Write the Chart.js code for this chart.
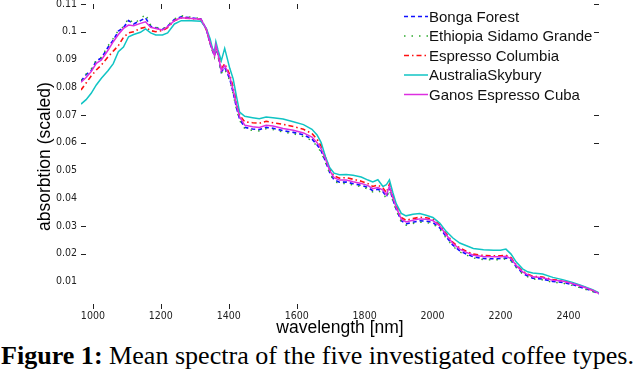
<!DOCTYPE html>
<html>
<head>
<meta charset="utf-8">
<script src="https://cdn.jsdelivr.net/npm/chart.js@4.4.0/dist/chart.umd.min.js"></script>
<style>
  html, body { margin: 0; padding: 0; background: #fff; }
  #wrap { position: relative; width: 640px; height: 376px; overflow: hidden; }
  #spectraChart { position: absolute; left: 0; top: 0; }
  #caption {
    position: absolute; left: 1px; top: 343px; white-space: nowrap;
    font-family: 'Liberation Serif', 'DejaVu Serif', serif; font-size: 25px; line-height: 25px;
    color: #000; transform-origin: 0 0;
  }
</style>
</head>
<body>
<div id="wrap">
  <canvas id="spectraChart" width="640" height="340"></canvas>
  <div id="caption"><b>Figure 1:</b> Mean spectra of the five investigated coffee types.</div>
</div>
<script>
// wavelengths [nm]
const wavelengths = [965, 980, 995, 1010, 1025, 1045, 1060, 1075, 1090, 1105, 1120, 1140, 1155, 1170, 1185, 1205, 1220, 1240, 1260, 1290, 1318, 1334, 1345, 1352, 1358, 1362, 1368, 1378, 1388, 1403, 1413, 1423, 1432, 1447, 1470, 1490, 1510, 1530, 1560, 1590, 1620, 1645, 1660, 1672, 1685, 1697, 1710, 1726, 1746, 1766, 1790, 1810, 1824, 1839, 1854, 1864, 1873, 1883, 1893, 1908, 1922, 1942, 1962, 1981, 2001, 2021, 2040, 2060, 2080, 2100, 2120, 2150, 2180, 2200, 2216, 2231, 2246, 2265, 2280, 2295, 2324, 2354, 2383, 2412, 2442, 2471, 2490];

const bongaForest = [0.0822, 0.0845, 0.0860, 0.0895, 0.0905, 0.0945, 0.0970, 0.1002, 0.1015, 0.1040, 0.1028, 0.1040, 0.1050, 0.1020, 0.1014, 0.1008, 0.1020, 0.1044, 0.1054, 0.1050, 0.1046, 0.1008, 0.0958, 0.0932, 0.0912, 0.0948, 0.0918, 0.0855, 0.0872, 0.0830, 0.0780, 0.0725, 0.0685, 0.0655, 0.0649, 0.0647, 0.0655, 0.0652, 0.0643, 0.0637, 0.0628, 0.0613, 0.0592, 0.0570, 0.0532, 0.0493, 0.0466, 0.0457, 0.0458, 0.0452, 0.0446, 0.0438, 0.0427, 0.0432, 0.0423, 0.0405, 0.0436, 0.0395, 0.0360, 0.0318, 0.0307, 0.0313, 0.0318, 0.0317, 0.0312, 0.0293, 0.0261, 0.0230, 0.0210, 0.0198, 0.0188, 0.0182, 0.0181, 0.0182, 0.0184, 0.0176, 0.0153, 0.0129, 0.0119, 0.0111, 0.0108, 0.0099, 0.0096, 0.0088, 0.0076, 0.0065, 0.0054];

const ethiopiaSidamo = [0.0825, 0.0848, 0.0865, 0.0898, 0.0908, 0.0950, 0.0976, 0.1005, 0.1018, 0.1048, 0.1030, 0.1045, 0.1064, 0.1024, 0.1016, 0.1010, 0.1022, 0.1046, 0.1058, 0.1052, 0.1048, 0.1006, 0.0955, 0.0930, 0.0908, 0.0944, 0.0914, 0.0850, 0.0866, 0.0824, 0.0775, 0.0718, 0.0680, 0.0650, 0.0644, 0.0642, 0.0650, 0.0647, 0.0638, 0.0632, 0.0622, 0.0607, 0.0587, 0.0565, 0.0527, 0.0488, 0.0461, 0.0452, 0.0453, 0.0447, 0.0441, 0.0433, 0.0422, 0.0426, 0.0418, 0.0398, 0.0430, 0.0390, 0.0355, 0.0313, 0.0302, 0.0308, 0.0313, 0.0312, 0.0307, 0.0288, 0.0256, 0.0226, 0.0206, 0.0194, 0.0184, 0.0178, 0.0177, 0.0178, 0.0180, 0.0172, 0.0150, 0.0126, 0.0116, 0.0108, 0.0105, 0.0096, 0.0093, 0.0085, 0.0074, 0.0063, 0.0052];

const espressoColumbia = [0.0790, 0.0815, 0.0840, 0.0862, 0.0880, 0.0910, 0.0930, 0.0950, 0.0980, 0.0996, 0.1000, 0.1012, 0.1016, 0.1004, 0.1000, 0.1004, 0.1015, 0.1040, 0.1050, 0.1047, 0.1044, 0.1008, 0.0962, 0.0936, 0.0918, 0.0950, 0.0925, 0.0865, 0.0885, 0.0845, 0.0800, 0.0745, 0.0700, 0.0675, 0.0672, 0.0670, 0.0677, 0.0672, 0.0666, 0.0658, 0.0648, 0.0633, 0.0612, 0.0588, 0.0545, 0.0505, 0.0480, 0.0472, 0.0474, 0.0468, 0.0461, 0.0452, 0.0442, 0.0447, 0.0436, 0.0420, 0.0450, 0.0408, 0.0372, 0.0330, 0.0320, 0.0326, 0.0331, 0.0329, 0.0324, 0.0304, 0.0272, 0.0240, 0.0220, 0.0208, 0.0198, 0.0193, 0.0192, 0.0192, 0.0194, 0.0185, 0.0160, 0.0136, 0.0126, 0.0118, 0.0115, 0.0106, 0.0102, 0.0093, 0.0081, 0.0068, 0.0056];

const australiaSkybury = [0.0739, 0.0755, 0.0778, 0.0808, 0.0832, 0.0860, 0.0885, 0.0928, 0.0945, 0.0982, 0.0990, 0.0998, 0.1010, 0.0996, 0.0988, 0.0988, 0.0996, 0.1028, 0.1040, 0.1040, 0.1038, 0.1012, 0.0975, 0.0940, 0.0930, 0.0964, 0.0935, 0.0895, 0.0940, 0.0868, 0.0830, 0.0765, 0.0710, 0.0695, 0.0690, 0.0686, 0.0692, 0.0690, 0.0685, 0.0675, 0.0665, 0.0648, 0.0628, 0.0600, 0.0548, 0.0510, 0.0490, 0.0484, 0.0485, 0.0482, 0.0476, 0.0465, 0.0458, 0.0466, 0.0442, 0.0448, 0.0466, 0.0420, 0.0380, 0.0345, 0.0336, 0.0342, 0.0344, 0.0338, 0.0330, 0.0310, 0.0280, 0.0256, 0.0238, 0.0228, 0.0218, 0.0214, 0.0212, 0.0212, 0.0216, 0.0198, 0.0170, 0.0145, 0.0134, 0.0130, 0.0126, 0.0114, 0.0106, 0.0096, 0.0083, 0.0070, 0.0058];

const ganosCuba = [0.0818, 0.0835, 0.0856, 0.0886, 0.0898, 0.0934, 0.0964, 0.0990, 0.1012, 0.1024, 0.1022, 0.1030, 0.1036, 0.1016, 0.1012, 0.1006, 0.1018, 0.1040, 0.1050, 0.1048, 0.1045, 0.1010, 0.0960, 0.0935, 0.0915, 0.0952, 0.0922, 0.0860, 0.0878, 0.0838, 0.0790, 0.0735, 0.0693, 0.0663, 0.0657, 0.0655, 0.0663, 0.0660, 0.0651, 0.0645, 0.0635, 0.0620, 0.0600, 0.0578, 0.0540, 0.0500, 0.0474, 0.0465, 0.0465, 0.0459, 0.0453, 0.0445, 0.0434, 0.0438, 0.0429, 0.0412, 0.0442, 0.0402, 0.0366, 0.0324, 0.0314, 0.0320, 0.0325, 0.0324, 0.0319, 0.0300, 0.0268, 0.0236, 0.0216, 0.0204, 0.0194, 0.0189, 0.0188, 0.0188, 0.0190, 0.0182, 0.0158, 0.0134, 0.0124, 0.0116, 0.0113, 0.0104, 0.0101, 0.0092, 0.0080, 0.0068, 0.0056];

// axis ticks
const xTicks = [1000, 1200, 1400, 1600, 1800, 2000, 2200, 2400];
const yTicks = [0.01, 0.02, 0.03, 0.04, 0.05, 0.06, 0.07, 0.08, 0.09, 0.1, 0.11];
// only these tick marks survived in the figure
const xMarkedTicks = [1000, 1200, 1400, 1600];
const yMarkedTicks = [0.02, 0.03, 0.06, 0.07, 0.1, 0.11];

const sansFont = "'Liberation Sans', Arial, sans-serif";
const tickFont = "'Liberation Sans Narrow', 'DejaVu Sans Condensed', 'Liberation Sans', sans-serif";

const toPoints = vals => wavelengths.map((w, i) => ({ x: w, y: vals[i] }));

// Inward tick marks on all four sides
const tickMarks = {
    id: 'tickMarks',
    afterDatasetsDraw(chart) {
        const { ctx, chartArea: a, scales: { x, y } } = chart;
        ctx.save();
        ctx.strokeStyle = '#222';
        ctx.lineWidth = 1;
        ctx.beginPath();
        xMarkedTicks.forEach(v => {
            const px = Math.round(x.getPixelForValue(v)) + 0.5;
            ctx.moveTo(px, a.top); ctx.lineTo(px, a.top + 5);
            ctx.moveTo(px, a.bottom); ctx.lineTo(px, a.bottom - 5);
        });
        yMarkedTicks.forEach(v => {
            const py = Math.round(y.getPixelForValue(v)) + 0.5;
            ctx.moveTo(a.left, py); ctx.lineTo(a.left + 5, py);
            ctx.moveTo(a.right, py); ctx.lineTo(a.right - 5, py);
        });
        ctx.stroke();
        ctx.restore();
    }
};

// Legend with line samples, top right inside the plot
const lineLegend = {
    id: 'lineLegend',
    afterDraw(chart) {
        const ctx = chart.ctx;
        ctx.save();
        ctx.font = '15px ' + sansFont;
        ctx.textBaseline = 'middle';
        chart.data.datasets.forEach((ds, i) => {
            const yy = 16.5 + i * 19.5;
            ctx.strokeStyle = ds.borderColor;
            ctx.lineWidth = ds.borderWidth;
            ctx.setLineDash(ds.borderDash || []);
            ctx.beginPath();
            ctx.moveTo(404, yy);
            ctx.lineTo(428, yy);
            ctx.stroke();
            ctx.setLineDash([]);
            ctx.fillStyle = '#111';
            ctx.fillText(ds.label, 429, yy + 1);
        });
        ctx.restore();
    }
};

document.addEventListener('DOMContentLoaded', () => {
    const ctx = document.getElementById('spectraChart').getContext('2d');
    new Chart(ctx, {
        type: 'line',
        data: {
            datasets: [
                { label: 'Bonga Forest', data: toPoints(bongaForest), borderColor: '#1010ff', borderWidth: 1.6, borderDash: [4, 3], order: 5 },
                { label: 'Ethiopia Sidamo Grande', data: toPoints(ethiopiaSidamo), borderColor: '#2eaa2e', borderWidth: 1.4, borderDash: [1.5, 6], order: 4 },
                { label: 'Espresso Columbia', data: toPoints(espressoColumbia), borderColor: '#ff1010', borderWidth: 1.6, borderDash: [5, 3, 1.5, 3], order: 3 },
                { label: 'AustraliaSkybury', data: toPoints(australiaSkybury), borderColor: '#10c4c4', borderWidth: 1.5, order: 2 },
                { label: 'Ganos Espresso Cuba', data: toPoints(ganosCuba), borderColor: '#dd2ee0', borderWidth: 1.5, order: 1 }
            ]
        },
        options: {
            responsive: false,
            animation: false,
            events: [],
            elements: { point: { radius: 0 }, line: { tension: 0, fill: false } },
            layout: { padding: { left: 0, right: 41, top: 4, bottom: 0 } },
            plugins: { legend: { display: false }, tooltip: { enabled: false } },
            scales: {
                x: {
                    type: 'linear',
                    min: 965,
                    max: 2490,
                    grid: { display: false, drawTicks: false },
                    border: { display: false },
                    afterBuildTicks: s => { s.ticks = xTicks.map(v => ({ value: v })); },
                    afterFit: s => { s.height = 31; s.paddingLeft = 0; s.paddingRight = 0; },
                    ticks: {
                        autoSkip: false, maxRotation: 0, padding: 2, color: '#222',
                        font: { family: tickFont, size: 10.5, lineHeight: 1 },
                        callback: v => String(v)
                    },
                    title: {
                        display: true, text: 'wavelength [nm]', color: '#000',
                        font: { family: sansFont, size: 17.5, lineHeight: 1.2 },
                        padding: { top: 0, bottom: 1 }
                    }
                },
                y: {
                    min: 0,
                    max: 0.11,
                    grid: { display: false, drawTicks: false },
                    border: { display: false },
                    afterBuildTicks: s => { s.ticks = yTicks.map(v => ({ value: v })); },
                    afterFit: s => { s.width = 81; s.paddingTop = 0; s.paddingBottom = 0; },
                    ticks: {
                        autoSkip: false, padding: 4, color: '#222',
                        font: { family: tickFont, size: 10.5, lineHeight: 1 },
                        callback: v => String(+v.toFixed(2))
                    },
                    title: {
                        display: true, text: 'absorbtion (scaled)', color: '#000',
                        font: { family: sansFont, size: 17.5, lineHeight: 1.2 },
                        padding: { top: 35, bottom: 0 }
                    }
                }
            }
        },
        plugins: [tickMarks, lineLegend]
    });

    // stretch the caption to the figure width
    const cap = document.getElementById('caption');
    const w = cap.getBoundingClientRect().width;
    cap.style.transform = 'scaleX(' + (633 / w) + ')';
});
</script>
</body>
</html>
